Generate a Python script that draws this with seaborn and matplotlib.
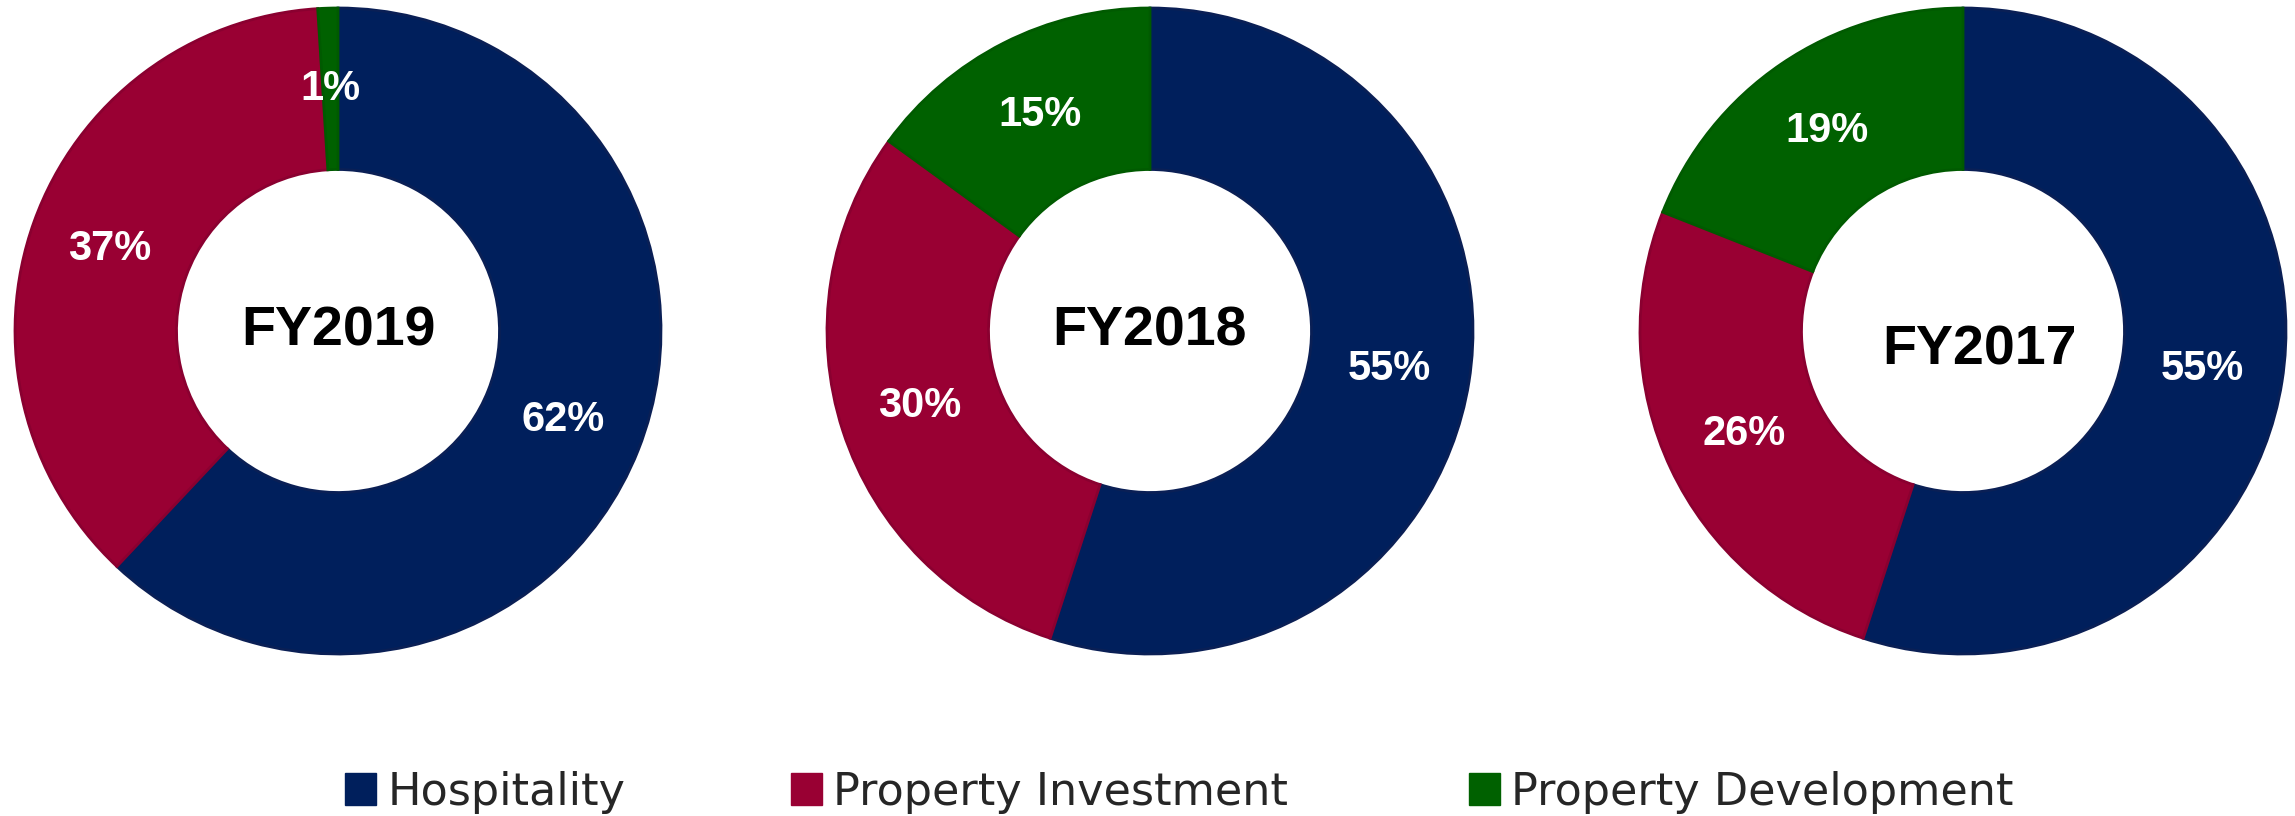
import matplotlib
matplotlib.use('Agg')
import matplotlib.pyplot as plt
from matplotlib.patches import Patch
import seaborn as sns

# data
segmentos = ['Hospitality', 'Property Investment', 'Property Development']
anios = ['FY2019', 'FY2018', 'FY2017']
fy2019 = [62, 37, 1]
fy2018 = [55, 30, 15]
fy2017 = [55, 26, 19]
valores = [fy2019, fy2018, fy2017]

colores = sns.color_palette(['#001f5c', '#990033', '#006100'])
bordes = ['#0a1f55', '#8a0030', '#005a00']

sns.set_theme(style='white')
plt.rcParams['font.family'] = ['DejaVu Sans']

W, H = 2295, 816
fig = plt.figure(figsize=(W / 100, H / 100), dpi=100)

centros_x = [338, 1150, 1963]
cy, r = 331, 323
offsets = [(0, 0), (0, 0), (0.05, -0.06)]

for i, (anio, vals) in enumerate(zip(anios, valores)):
    cx = centros_x[i]
    ax = fig.add_axes([(cx - r) / W, (H - cy - r) / H, 2 * r / W, 2 * r / H])
    wedges, textos, pcts = ax.pie(vals, colors=colores, startangle=90, counterclock=False,
                                  autopct='%1.0f%%', pctdistance=0.75,
                                  wedgeprops=dict(width=0.5, linewidth=2))
    for w, b in zip(wedges, bordes):
        w.set_edgecolor(b)
    for t in pcts:
        t.set_color('white')
        t.set_fontsize(30)
        t.set_fontweight('bold')
        t.set_family('Liberation Sans')
    ax.text(offsets[i][0], offsets[i][1], anio, ha='center', va='center',
            fontsize=40, fontweight='bold', family='Liberation Sans', color='black')
    ax.set_xlim(-1, 1)
    ax.set_ylim(-1, 1)
    ax.set_aspect('equal')
    ax.axis('off')

# legend, one entry each
leg_x = [345, 791, 1469]
for seg, col, x in zip(segmentos, colores, leg_x):
    fig.legend(handles=[Patch(facecolor=col, edgecolor=col, label=seg)],
               loc='center left', bbox_to_anchor=(x / W, (H - 792) / H),
               frameon=False, fontsize=32, handlelength=0.7, handleheight=0.7,
               handletextpad=0.25, borderpad=0, borderaxespad=0)

plt.savefig('out.png', dpi=100)
